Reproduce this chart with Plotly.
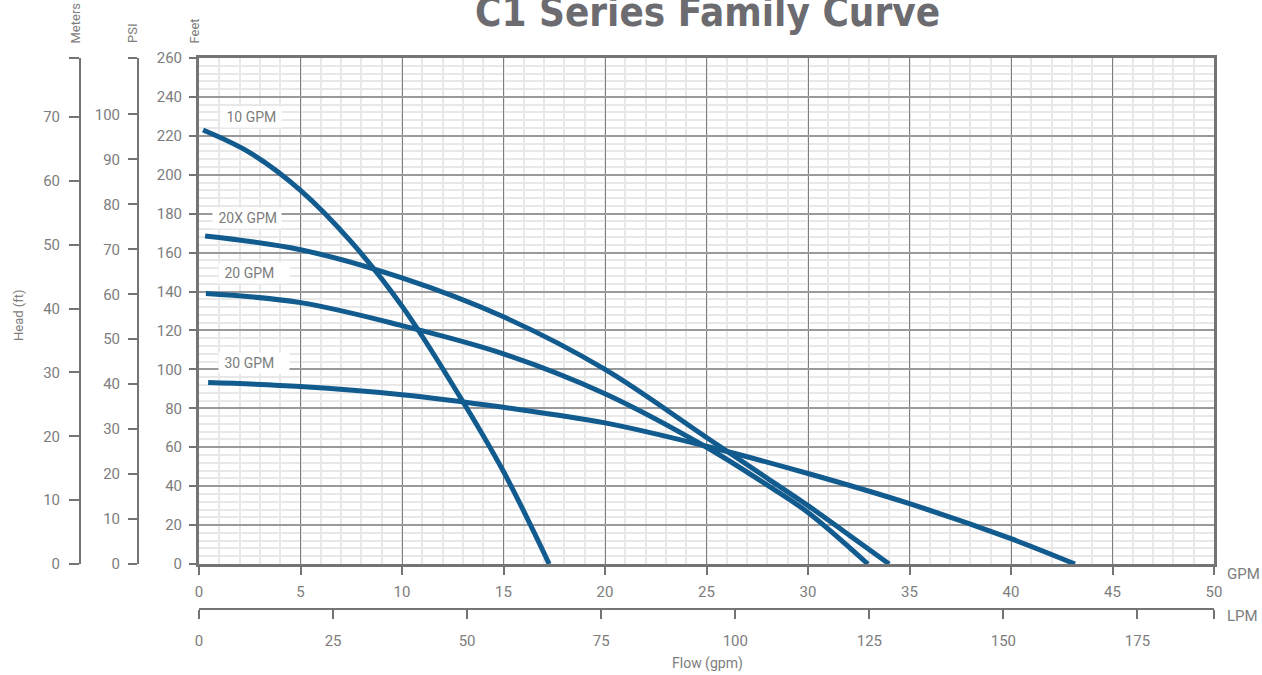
import plotly.graph_objects as go

# ---------------- data ----------------
gpm_ticks = [0, 5, 10, 15, 20, 25, 30, 35, 40, 45, 50]
lpm_ticks = [0, 25, 50, 75, 100, 125, 150, 175]
feet_ticks = [0, 20, 40, 60, 80, 100, 120, 140, 160, 180, 200, 220, 240, 260]
psi_ticks = [0, 10, 20, 30, 40, 50, 60, 70, 80, 90, 100]
meter_ticks = [0, 10, 20, 30, 40, 50, 60, 70]

curve_names = ["10 GPM", "20X GPM", "20 GPM", "30 GPM"]

flow_10 = [0.2, 2.5, 5, 7.5, 10, 12.5, 15, 17.25]
head_10 = [223, 211.4, 192, 165.5, 132.5, 92, 47.5, 0]

flow_20x = [0.3, 5, 10, 15, 20, 25, 28, 30, 32, 34.0]
head_20x = [168.5, 161.5, 147, 127, 100, 65, 44, 30, 15, 0]

flow_20 = [0.34, 5, 10, 15, 20, 25, 28, 30, 32.95]
head_20 = [139, 134.3, 122.5, 108, 87.5, 60, 40.5, 26.5, 0]

flow_30 = [0.45, 5, 10, 15, 20, 25, 30, 35, 40, 43.15]
head_30 = [93.2, 91.2, 87, 80.5, 72.5, 60.5, 46.5, 31, 13, 0]

series_flow = [flow_10, flow_20x, flow_20, flow_30]
series_head = [head_10, head_20x, head_20, head_30]

GPM_MAX = 50
FT_MAX = 260
FT_PER_M = 1 / 0.3048
FT_PER_PSI = 2.31
LPM_PER_GPM = 3.78541

# ---------------- geometry (page pixels) ----------------
W, H = 1262, 675
PLOT_L, PLOT_R, PLOT_T, PLOT_B = 199, 1214, 58, 564
LPM_LINE = 609
ML = 60
MR = W - PLOT_R
MT = PLOT_T
MB = H - LPM_LINE
PW = W - ML - MR
PH = H - MT - MB


def px_x(px):
    return (px - ML) / PW


def px_y(py):
    return (H - MB - py) / PH


BLUE = "#115b8f"
TXT = "#7d7d7d"
AX = "#747474"
FONT = "Roboto, Arial, sans-serif"

fig = go.Figure()

for name, fx, hy in zip(curve_names, series_flow, series_head):
    fig.add_trace(go.Scatter(
        x=fx, y=hy, mode="lines", name=name,
        line=dict(color=BLUE, width=5, shape="spline", smoothing=1),
        showlegend=False, hoverinfo="skip",
    ))

# empty traces so the secondary axes are drawn
fig.add_trace(go.Scatter(x=[None], y=[None], xaxis="x2", yaxis="y", showlegend=False, hoverinfo="skip"))
fig.add_trace(go.Scatter(x=[None], y=[None], xaxis="x", yaxis="y2", showlegend=False, hoverinfo="skip"))
fig.add_trace(go.Scatter(x=[None], y=[None], xaxis="x", yaxis="y3", showlegend=False, hoverinfo="skip"))

x_dom = [px_x(PLOT_L), 1]
y_dom = [px_y(PLOT_B), 1]

tickfont = dict(family=FONT, size=15, color=TXT)

fig.update_layout(
    width=W, height=H, autosize=False,
    margin=dict(l=ML, r=MR, t=MT, b=MB),
    paper_bgcolor="white", plot_bgcolor="white",
    showlegend=False,
    xaxis=dict(
        domain=x_dom, range=[0, GPM_MAX], anchor="y",
        tickvals=gpm_ticks, ticks="outside", ticklen=8, tickwidth=2, tickcolor=AX,
        showline=True, linewidth=3, linecolor=AX, mirror=True,
        showgrid=True, gridcolor="#7f7f7f", gridwidth=1.2,
        minor=dict(dtick=1, showgrid=True, gridcolor="#e8e8e8", gridwidth=1.5, ticks=""),
        zeroline=False, tickfont=tickfont, ticklabelstandoff=4,
    ),
    yaxis=dict(
        domain=y_dom, range=[0, FT_MAX], anchor="x",
        tickvals=feet_ticks, ticks="outside", ticklen=7, tickwidth=2, tickcolor=AX,
        showline=True, linewidth=3, linecolor=AX, mirror=True,
        showgrid=True, gridcolor="#9a9a9a", gridwidth=1.6,
        minor=dict(dtick=4, showgrid=True, gridcolor="#e8e8e8", gridwidth=1.5, ticks=""),
        zeroline=False, tickfont=tickfont, ticklabelstandoff=4,
    ),
    yaxis2=dict(
        overlaying="y", anchor="free", position=px_x(80), side="left",
        range=[0, FT_MAX / FT_PER_M],
        tickvals=meter_ticks + [FT_MAX / FT_PER_M],
        ticktext=[str(v) for v in meter_ticks] + [""],
        ticks="outside", ticklen=10, tickwidth=1.5, tickcolor=AX,
        showline=True, linewidth=2, linecolor=AX,
        showgrid=False, zeroline=False, tickfont=tickfont, ticklabelstandoff=6,
    ),
    yaxis3=dict(
        overlaying="y", anchor="free", position=px_x(138), side="left",
        range=[0, FT_MAX / FT_PER_PSI],
        tickvals=psi_ticks + [FT_MAX / FT_PER_PSI],
        ticktext=[str(v) for v in psi_ticks] + [""],
        ticks="outside", ticklen=9, tickwidth=1.5, tickcolor=AX,
        showline=True, linewidth=2, linecolor=AX,
        showgrid=False, zeroline=False, tickfont=tickfont, ticklabelstandoff=5,
    ),
    xaxis2=dict(
        overlaying="x", anchor="free", position=0, side="bottom",
        range=[0, GPM_MAX * LPM_PER_GPM],
        tickvals=lpm_ticks + [GPM_MAX * LPM_PER_GPM],
        ticktext=[str(v) for v in lpm_ticks] + [""],
        ticks="outside", ticklen=9, tickwidth=2, tickcolor=AX,
        showline=True, linewidth=2, linecolor=AX,
        showgrid=False, zeroline=False, tickfont=tickfont, ticklabelstandoff=9,
    ),
)

ann = []
# title (partly above the top edge, as in the original)
ann.append(dict(text="<b>C1 Series Family Curve</b>", xref="paper", yref="paper",
                x=px_x(707), y=px_y(12.5), xanchor="center", yanchor="middle",
                showarrow=False,
                font=dict(family="DejaVu Sans Condensed, DejaVu Sans, sans-serif", size=40, color="#6b6b70")))
# rotated unit labels
small = dict(family=FONT, size=13, color=TXT)
for txt, cx, cy in [("Meters", 74.5, 23), ("PSI", 132, 34), ("Feet", 193.5, 31), ("Head (ft)", 18, 315)]:
    ann.append(dict(text=txt, xref="paper", yref="paper", x=px_x(cx), y=px_y(cy),
                    xanchor="center", yanchor="middle", textangle=-90, showarrow=False, font=small))
ann.append(dict(text="Flow (gpm)", xref="paper", yref="paper", x=px_x(707), y=px_y(663),
                xanchor="center", yanchor="middle", showarrow=False, font=dict(family=FONT, size=14, color=TXT)))
for txt, cy in [("GPM", 573.5), ("LPM", 616)]:
    ann.append(dict(text=txt, xref="paper", yref="paper", x=px_x(1225), y=px_y(cy),
                    xanchor="left", yanchor="middle", showarrow=False, font=dict(family=FONT, size=15, color=TXT)))
# curve labels: (box left edge, box centre y, box width) in page pixels
label_boxes = [(220, 117.5, 60), (212, 218, 68), (218, 273, 70), (218, 363, 70)]
for name, (bx, by, bw) in zip(curve_names, label_boxes):
    ann.append(dict(text="\u00a0" + name, xref="paper", yref="paper", x=px_x(bx), y=px_y(by),
                    xanchor="left", yanchor="middle", align="left", showarrow=False,
                    bgcolor="white", borderpad=2, width=bw - 4, height=16,
                    font=dict(family=FONT, size=14, color=TXT)))
fig.update_layout(annotations=ann)

fig.write_html("out.html", config={"displayModeBar": False},
               post_script="document.body.style.margin='0';")
